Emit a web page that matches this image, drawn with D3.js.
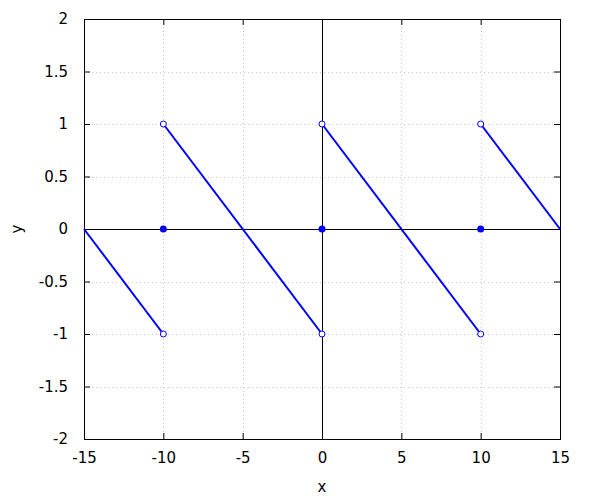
<!DOCTYPE html>
<html>
<head>
<meta charset="utf-8">
<script src="https://cdn.jsdelivr.net/npm/d3@7"></script>
<style>
body { margin: 0; background: #fff; }
text { font-family: "DejaVu Sans", sans-serif; font-size: 15px; fill: #000; }
</style>
</head>
<body>
<svg id="chart" width="600" height="500"></svg>
<script>
// sawtooth segments, each one a list of [x, y] points
var segments = [
    [[-15, 0], [-10, -1]],
    [[-10, 1], [0, -1]],
    [[0, 1], [10, -1]],
    [[10, 1], [15, 0]]
];
// open circles at the jumps
var openPoints = [[-10, 1], [-10, -1], [0, 1], [0, -1], [10, 1], [10, -1]];
// filled dots: value taken at the jump
var filledPoints = [[-10, 0], [0, 0], [10, 0]];

var xTicks = [-15, -10, -5, 0, 5, 10, 15];
var yTicks = [-2, -1.5, -1, -0.5, 0, 0.5, 1, 1.5, 2];

var plotLeft = 84, plotRight = 560, plotTop = 19, plotBottom = 439;
var svg = d3.select("#chart");

var xScale = d3.scaleLinear().domain([-15, 15]).range([plotLeft, plotRight]);
var yScale = d3.scaleLinear().domain([-2, 2]).range([plotBottom, plotTop]);

// grid lines
var grid = svg.append("g")
    .attr("stroke", "#c8c8c8")
    .attr("stroke-dasharray", "1,3")
    .attr("stroke-width", 1);
grid.selectAll(".gx").data(xTicks.slice(1, -1)).enter().append("line")
    .attr("x1", function (d) { return Math.round(xScale(d)) + 0.5; })
    .attr("x2", function (d) { return Math.round(xScale(d)) + 0.5; })
    .attr("y1", plotTop).attr("y2", plotBottom);
grid.selectAll(".gy").data(yTicks.slice(1, -1)).enter().append("line")
    .attr("y1", function (d) { return Math.round(yScale(d)) + 0.5; })
    .attr("y2", function (d) { return Math.round(yScale(d)) + 0.5; })
    .attr("x1", plotLeft).attr("x2", plotRight);

// zero axes
svg.append("line")
    .attr("x1", plotLeft).attr("x2", plotRight)
    .attr("y1", Math.round(yScale(0)) + 0.5).attr("y2", Math.round(yScale(0)) + 0.5)
    .attr("stroke", "#000");
svg.append("line")
    .attr("x1", Math.round(xScale(0)) + 0.5).attr("x2", Math.round(xScale(0)) + 0.5)
    .attr("y1", plotTop).attr("y2", plotBottom)
    .attr("stroke", "#000");

// axes with inward ticks, mirrored on top and right
var fmt = function (d) { return String(d); };
svg.append("g").attr("transform", "translate(0," + plotBottom + ")")
    .call(d3.axisBottom(xScale).tickValues(xTicks).tickSizeInner(-6).tickSizeOuter(0).tickPadding(13).tickFormat(fmt));
svg.append("g").attr("transform", "translate(0," + plotTop + ")")
    .call(d3.axisTop(xScale).tickValues(xTicks).tickSizeInner(-6).tickSizeOuter(0).tickFormat(""));
svg.append("g").attr("transform", "translate(" + plotLeft + ",0)")
    .call(d3.axisLeft(yScale).tickValues(yTicks).tickSizeInner(-6).tickSizeOuter(0).tickPadding(16).tickFormat(fmt));
svg.append("g").attr("transform", "translate(" + plotRight + ",0)")
    .call(d3.axisRight(yScale).tickValues(yTicks).tickSizeInner(-6).tickSizeOuter(0).tickFormat(""));

svg.selectAll(".tick text")
    .style("font-family", "DejaVu Sans, sans-serif")
    .style("font-size", "15px")
    .attr("fill", "#000");
svg.selectAll(".domain").remove();

// frame
svg.append("rect")
    .attr("x", plotLeft + 0.5).attr("y", plotTop + 0.5)
    .attr("width", plotRight - plotLeft).attr("height", plotBottom - plotTop)
    .attr("fill", "none").attr("stroke", "#000");

// sawtooth lines
var line = d3.line()
    .x(function (d) { return xScale(d[0]); })
    .y(function (d) { return yScale(d[1]); });
svg.selectAll(".seg").data(segments).enter().append("path")
    .attr("d", line)
    .attr("fill", "none")
    .attr("stroke", "#0000ff")
    .attr("stroke-width", 2);

svg.selectAll(".open").data(openPoints).enter().append("circle")
    .attr("cx", function (d) { return xScale(d[0]); })
    .attr("cy", function (d) { return yScale(d[1]); })
    .attr("r", 3)
    .attr("fill", "#fff")
    .attr("stroke", "#0000ff")
    .attr("stroke-width", 1);

svg.selectAll(".filled").data(filledPoints).enter().append("circle")
    .attr("cx", function (d) { return xScale(d[0]); })
    .attr("cy", function (d) { return yScale(d[1]); })
    .attr("r", 3.5)
    .attr("fill", "#0000ff");

// axis labels
svg.append("text").attr("x", (plotLeft + plotRight) / 2).attr("y", 492)
    .attr("text-anchor", "middle").text("x");
svg.append("text").attr("transform", "translate(22," + (plotTop + plotBottom) / 2 + ") rotate(-90)")
    .attr("text-anchor", "middle").text("y");
</script>
</body>
</html>
